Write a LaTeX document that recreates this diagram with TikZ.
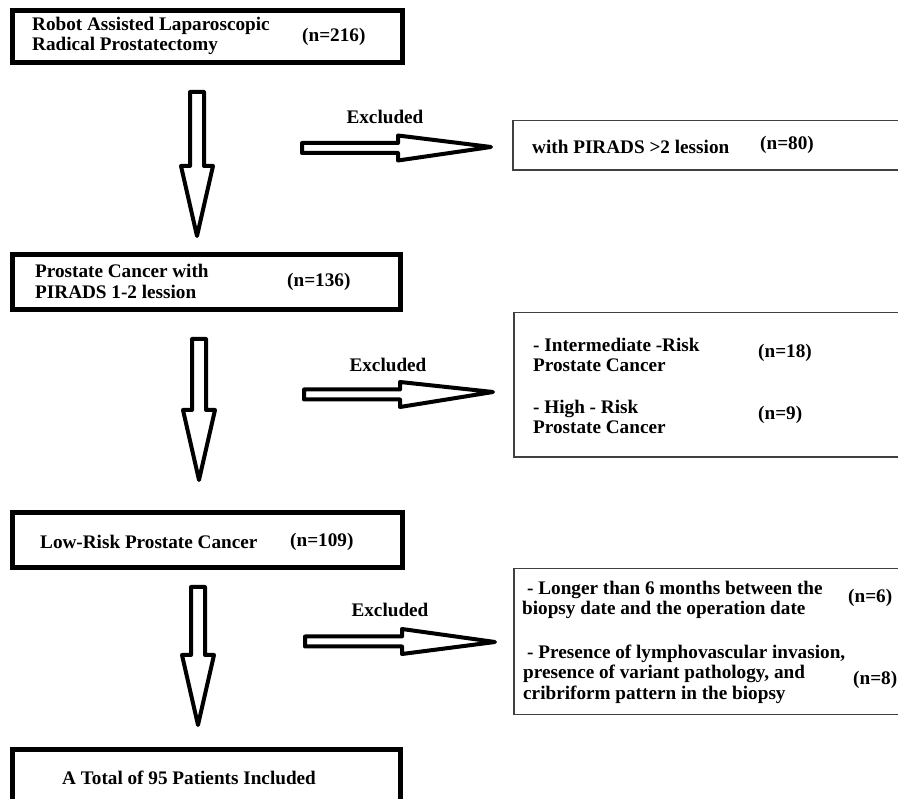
\documentclass[tikz,border=0pt]{standalone}
\usepackage{fontspec}
\setmainfont{Liberation Serif}
\usepackage{tikz}
\usetikzlibrary{calc, positioning}

\begin{document}
\begin{tikzpicture}[
            x=1pt, y=-1pt,
            box/.style={draw, line width=5pt, rectangle, inner sep=0pt, outer sep=0pt, anchor=north west},
            thinbox/.style={draw=black!75, line width=1.5pt, rectangle, inner sep=0pt, outer sep=0pt, anchor=north west},
            txt/.style={inner sep=0pt, anchor=west, align=left, font=\fontsize{19.2}{20.5}\selectfont\bfseries},
            fat/.style={draw, line width=4pt, line join=round},
            fatdown/.style={to path={let \p1=(\tikztostart), \p2=(\tikztotarget) in
                (\x1-7pt,\y1) -- (\x1-7pt,\y2+70pt) -- (\x1-16pt,\y2+70pt) -- (\x2,\y2)
                -- (\x1+16pt,\y2+70pt) -- (\x1+7pt,\y2+70pt) -- (\x1+7pt,\y1) -- cycle}},
            fatright/.style={to path={let \p1=(\tikztostart), \p2=(\tikztotarget) in
                (\x1,\y1-5pt) -- (\x2-93pt,\y1-5pt) -- (\x2-93pt,\y1-12.5pt) -- (\x2,\y2)
                -- (\x2-93pt,\y1+12.5pt) -- (\x2-93pt,\y1+5pt) -- (\x1,\y1+5pt) -- cycle}}
        ]
            \useasboundingbox (0,0) rectangle (898,799);
            \clip (0,0) rectangle (898,799);

            % main boxes
            \node[box, minimum width=390pt, minimum height=52pt] (M1) at (12.5,10.5) {};
            \node[box, minimum width=388pt, minimum height=55pt] (M2) at (12.5,254.5) {};
            \node[box, minimum width=390pt, minimum height=55pt] (M3) at (12.5,512.5) {};
            \node[box, minimum width=388pt, minimum height=80pt] (M4) at (12.5,749.5) {};

            \node[txt] (T1) at (32,36) {Robot Assisted Laparoscopic\\Radical Prostatectomy};
            \node[txt] (N1) at (302,37) {(n=216)};
            \node[txt] (T2) at (35,281.5) {Prostate Cancer with\\PIRADS 1-2 lession};
            \node[txt] (N2) at (287,282) {(n=136)};
            \node[txt] (T3) at (40,542) {Low-Risk Prostate Cancer};
            \node[txt] (N3) at (290,542) {(n=109)};
            \node[txt] (T4) at (62,778) {A Total of 95 Patients Included};

            % excluded boxes
            \node[thinbox, minimum width=440pt, minimum height=49.5pt] (XA) at (512.75,120.75) {};
            \node[thinbox, minimum width=440pt, minimum height=144.5pt] (XB) at (513.75,312.75) {};
            \node[thinbox, minimum width=440pt, minimum height=145.5pt] (XC) at (513.75,568.75) {};

            \node[txt] (TA) at (532,147) {with PIRADS >2 lession};
            \node[txt] (NA) at (760,145) {(n=80)};
            \node[txt] (TB1) at (533,355) {- Intermediate -Risk\\Prostate Cancer};
            \node[txt] (NB1) at (758,353) {(n=18)};
            \node[txt] (TB2) at (533,417) {- High - Risk\\Prostate Cancer};
            \node[txt] (NB2) at (758,415) {(n=9)};
            \node[txt] (TC1) at (522,600) {\hspace*{5pt}- Longer than 6 months between the\\biopsy date and the operation date};
            \node[txt] (NC1) at (848,598) {(n=6)};
            \node[txt] (TC2) at (523,674) {\hspace*{4pt}- Presence of lymphovascular invasion,\\presence of variant pathology, and\\cribriform pattern in the biopsy};
            \node[txt] (NC2) at (853,680) {(n=8)};

            % labels
            \node[txt, anchor=center] (E1) at (385,117) {Excluded};
            \node[txt, anchor=center] (E2) at (388,365) {Excluded};
            \node[txt, anchor=center] (E3) at (390,610) {Excluded};

            % arrow ends
            \coordinate (d1a) at (197,92);  \coordinate (d1b) at (197,236);
            \coordinate (d2a) at (199,339); \coordinate (d2b) at (199,480);
            \coordinate (d3a) at (198,587); \coordinate (d3b) at (198,725);
            \coordinate (r1a) at (302,148); \coordinate (r1b) at (491,147);
            \coordinate (r2a) at (304,394.5); \coordinate (r2b) at (493,392);
            \coordinate (r3a) at (305,641.5); \coordinate (r3b) at (495,642);

            % arrows
            \draw[fat] (d1a) to[fatdown] (d1b);
            \draw[fat] (d2a) to[fatdown] (d2b);
            \draw[fat] (d3a) to[fatdown] (d3b);

            \draw[fat] (r1a) to[fatright] (r1b);
            \draw[fat] (r2a) to[fatright] (r2b);
            \draw[fat] (r3a) to[fatright] (r3b);
        \end{tikzpicture}
\end{document}
